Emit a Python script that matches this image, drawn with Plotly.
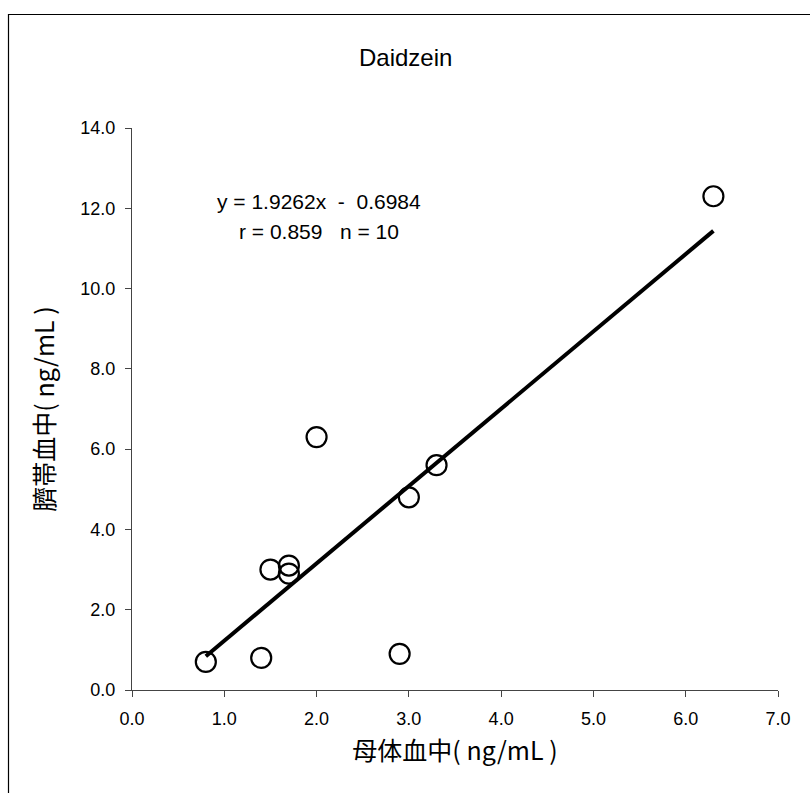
import plotly.graph_objects as go

maternal = [0.8, 1.4, 1.5, 1.7, 1.7, 2.0, 2.9, 3.0, 3.3, 6.3]
cord = [0.7, 0.8, 3.0, 2.9, 3.1, 6.3, 0.9, 4.8, 5.6, 12.3]
slope = 1.9262
intercept = -0.6984
fit_x = [min(maternal), max(maternal)]
fit_y = [slope * v + intercept for v in fit_x]

title_text = "Daidzein"
eq_text = "y = 1.9262x  -  0.6984"
r_text = "r = 0.859   n = 10"
x_title = "母体血中( ng/mL )"
y_title = "臍帯血中( ng/mL )"

FONT = "Liberation Sans, Arial, Noto Sans CJK JP, sans-serif"
CJK = "Noto Sans CJK JP, Liberation Sans, sans-serif"

fig = go.Figure()
fig.add_trace(go.Scatter(x=fit_x, y=fit_y, mode="lines",
                         line=dict(color="black", width=4), showlegend=False))
fig.add_trace(go.Scatter(x=maternal, y=cord, mode="markers",
                         marker=dict(symbol="circle-open", size=20, color="black",
                                     line=dict(color="black", width=2.2)),
                         showlegend=False))

L, R, T, B = 132, 32, 128, 103
W, H = 810, 793
pw, ph = W - L - R, H - T - B

def px(x):
    return (x - L) / pw

def py(y):
    return (H - B - y) / ph

fig.update_layout(
    width=W, height=H,
    margin=dict(l=L, r=R, t=T, b=B),
    paper_bgcolor="white", plot_bgcolor="white",
    font=dict(family=FONT, size=18, color="black"),
    xaxis=dict(range=[0, 7], dtick=1, tickformat=".1f", showgrid=False, zeroline=False,
               showline=True, linecolor="#444", linewidth=1, ticks="outside",
               ticklen=6, tickcolor="#444", tickfont=dict(size=18, family=FONT),
               ticklabelstandoff=6,
               title=dict(text=x_title, font=dict(size=25, family=CJK), standoff=14)),
    yaxis=dict(range=[0, 14], dtick=2, tickformat=".1f", showgrid=False, zeroline=False,
               showline=True, linecolor="#444", linewidth=1, ticks="outside",
               ticklen=6, tickcolor="#444", tickfont=dict(size=18, family=FONT),
               ticklabelstandoff=6,
               title=dict(text=y_title, font=dict(size=25, family=CJK), standoff=18)),
    annotations=[
        dict(text=title_text, x=px(405), y=py(57), xref="paper", yref="paper",
             showarrow=False, font=dict(size=24, family=FONT), xanchor="center", yanchor="middle"),
        dict(text=eq_text, x=px(319), y=py(201), xref="paper", yref="paper",
             showarrow=False, font=dict(size=21, family=FONT), xanchor="center", yanchor="middle"),
        dict(text=r_text, x=px(319), y=py(231), xref="paper", yref="paper",
             showarrow=False, font=dict(size=21, family=FONT), xanchor="center", yanchor="middle"),
    ],
    shapes=[
        dict(type="rect", xref="paper", yref="paper",
             x0=px(8.5), x1=px(812), y0=py(14.5), y1=py(800),
             line=dict(color="black", width=1.2), fillcolor="rgba(0,0,0,0)", layer="below"),
    ],
)

fig.write_html("out.html")
